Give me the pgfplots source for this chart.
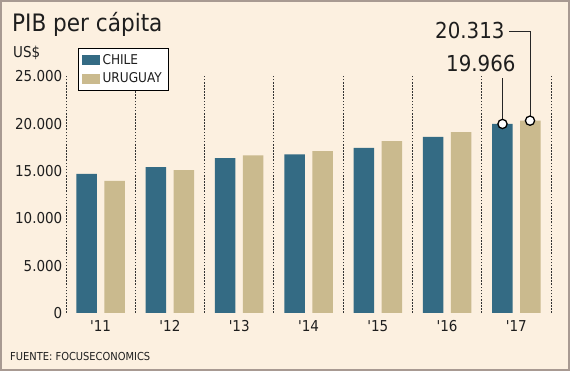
\documentclass[border=0pt]{standalone}
\usepackage{pgfplots}
\pgfplotsset{compat=1.18}
\usepackage{fontspec}
\setmainfont{DejaVu Sans Condensed}
\definecolor{chile}{HTML}{346B84}
\definecolor{uru}{HTML}{CABA8E}
\definecolor{bg}{HTML}{FCF0E0}
\definecolor{frame}{HTML}{A89A92}
\definecolor{txt}{HTML}{1E1E1E}
\begin{document}
\begin{tikzpicture}[x=1pt,y=1pt]
\useasboundingbox (0,0) rectangle (570,371);
\fill[bg] (0,0) rectangle (570,371);
\draw[frame, line width=2pt] (1,1) rectangle (569,370);
\begin{axis}[
  at={(66pt,58pt)}, anchor=south west,
  scale only axis, width=485pt, height=236.7pt,
  xmin=-0.5, xmax=6.5, ymin=0, ymax=25000,
  axis line style={draw=none},
  major tick length=0pt, minor tick length=0pt,
  xtick={0,1,2,3,4,5,6},
  xticklabels={\textquotesingle11,\textquotesingle12,\textquotesingle13,\textquotesingle14,\textquotesingle15,\textquotesingle16,\textquotesingle17},
  minor xtick={-0.5,0.5,1.5,2.5,3.5,4.5,5.5,6.5},
  xminorgrids,
  minor grid style={draw=black!80, line width=0.9pt, dash pattern=on 1.6pt off 1.5pt},
  ytick={0,5000,10000,15000,20000,25000},
  scaled y ticks=false,
  /pgf/number format/1000 sep={.},
  /pgf/number format/assume math mode=true,
  every tick label/.append style={font=\fontsize{15}{15}\selectfont, text=txt},
  yticklabel style={inner sep=0pt, xshift=-3.5pt},
  xticklabel style={inner sep=0pt, yshift=-7pt},
  clip=false,
  legend style={at={(axis description cs:0.0247,1.1196)}, anchor=north west,
    fill=white, draw=black, line width=0.7pt,
    font=\fontsize{13.5}{13.5}\selectfont, text=txt,
    inner xsep=4pt, inner ysep=3.5pt, row sep=3pt,
    nodes={inner sep=2.2pt},
    cells={anchor=west}},
]
\addplot[ybar, bar width=20.5pt, bar shift=-14pt, fill=chile, draw=none,
  legend image code/.code={\fill[chile] (0pt,-5pt) rectangle (18pt,5pt);}]
  coordinates {(0,14700) (1,15400) (2,16350) (3,16750) (4,17450) (5,18600) (6,19966)};
\addlegendentry{CHILE}
\addplot[ybar, bar width=20.5pt, bar shift=14pt, fill=uru, draw=none,
  legend image code/.code={\fill[uru] (0pt,-5pt) rectangle (18pt,5pt);}]
  coordinates {(0,13950) (1,15100) (2,16650) (3,17100) (4,18150) (5,19100) (6,20313)};
\addlegendentry{URUGUAY}
\addplot[black!85, line width=0.8pt, forget plot] coordinates {(5.8,19966) (5.8,24855)};
\addplot[black!85, line width=0.8pt, forget plot] coordinates {(6.197,20313) (6.197,29714) (5.898,29714)};
\addplot[only marks, mark=*, mark size=4.6pt, mark options={fill=white, draw=black, line width=1.3pt}, forget plot]
  coordinates {(5.8,19966) (6.197,20313)};
\end{axis}
\node[anchor=base west, inner sep=0pt, text=txt, font=\fontsize{24}{24}\selectfont] at (12,339) {PIB per cápita};
\node[anchor=base west, inner sep=0pt, text=txt, font=\fontsize{15}{15}\selectfont] at (13,313) {US\$};
\node[anchor=base west, inner sep=0pt, text=txt, font=\fontsize{22}{22}\selectfont] at (435,332) {20.313};
\node[anchor=base west, inner sep=0pt, text=txt, font=\fontsize{22}{22}\selectfont] at (446,299) {19.966};
\node[anchor=base west, inner sep=0pt, text=txt, font=\fontsize{11}{11}\selectfont] at (10,10) {FUENTE: FOCUSECONOMICS};
\end{tikzpicture}
\end{document}
